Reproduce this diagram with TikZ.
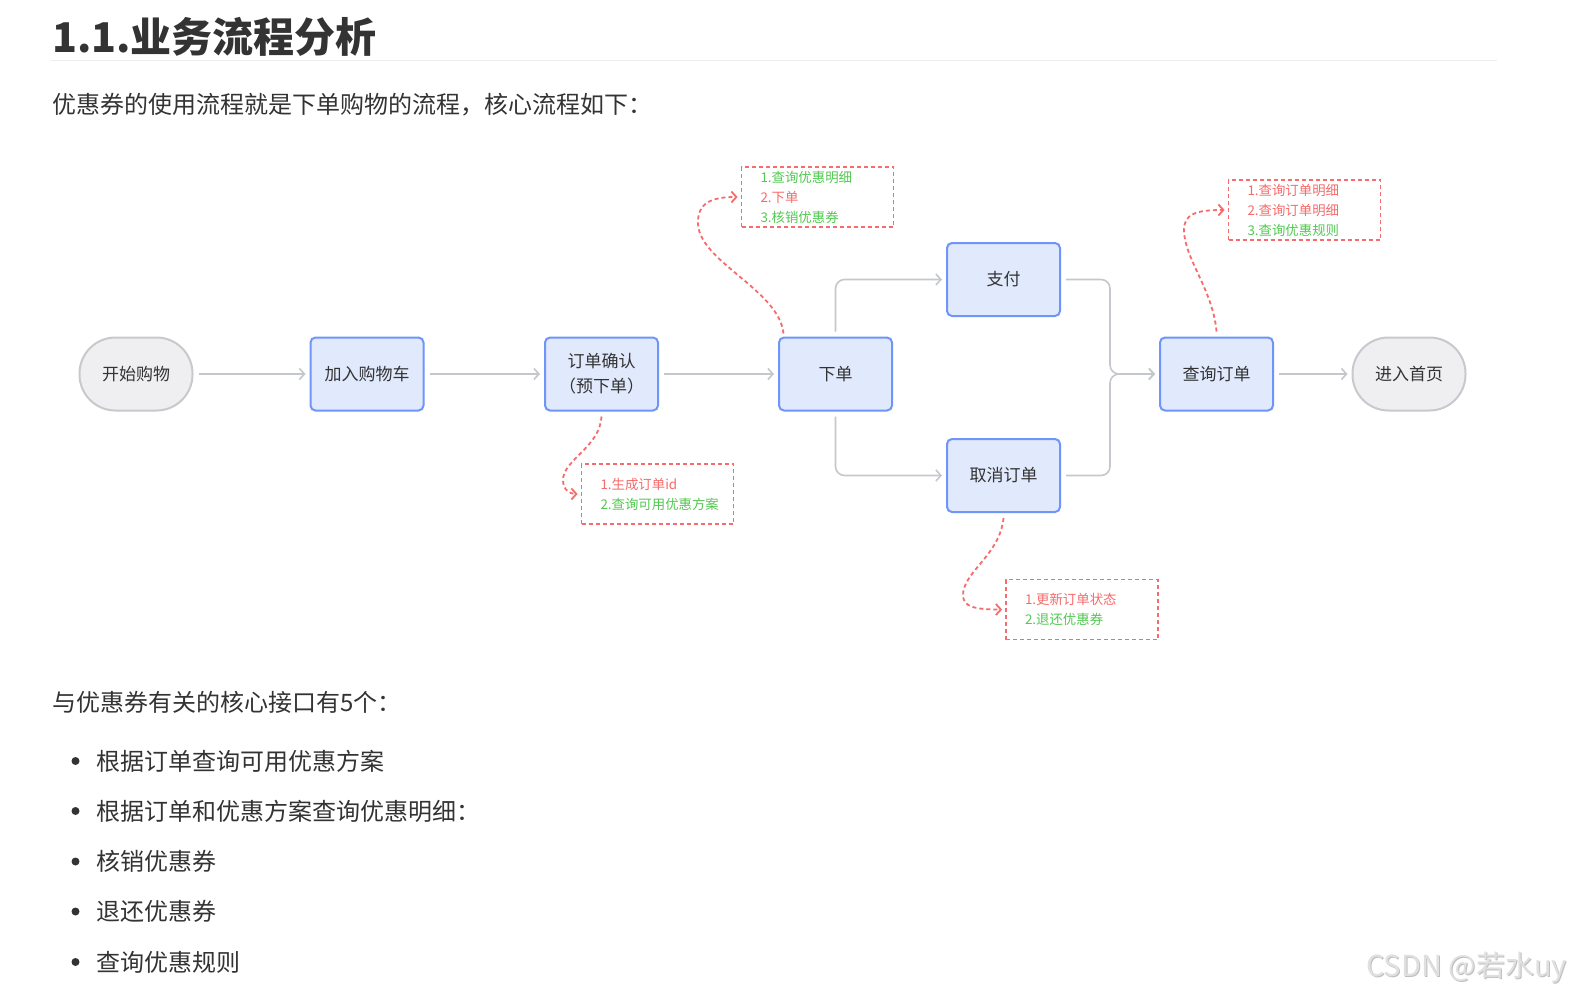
\documentclass[tikz,border=0pt]{standalone}
\usepackage{fontspec}
\setmainfont{Noto Sans CJK SC}
\usetikzlibrary{arrows.meta}

\definecolor{texto}{HTML}{333333}
\definecolor{caixa}{HTML}{E1E9FD}
\definecolor{borda}{HTML}{6E95F7}
\definecolor{cinza}{HTML}{EFEFF1}
\definecolor{bordacinza}{HTML}{C8C9CC}
\definecolor{linha}{HTML}{C4C7CC}
\definecolor{vermelho}{HTML}{F66B6B}
\definecolor{verde}{HTML}{52C952}
\definecolor{regua}{HTML}{EEEEEE}

\begin{document}
\begin{tikzpicture}[x=1pt,y=-1pt,
    flowbox/.style={draw=borda, fill=caixa, line width=2pt, rounded corners=5pt,
      minimum width=113pt, minimum height=73pt, align=center, text=texto,
      font=\fontsize{17}{25}\selectfont},
    endbox/.style={flowbox, draw=bordacinza, fill=cinza, rounded corners=36pt},
    notebox/.style={draw=vermelho, line width=1.8pt, dash pattern=on 4pt off 3pt,
      minimum height=60pt, text width=114pt, inner xsep=19pt, inner ysep=0pt,
      align=left, text=vermelho, font=\fontsize{13.4}{20}\selectfont},
    flowline/.style={draw=linha, line width=1.6pt, rounded corners=9pt,
      -{Straight Barb[length=5pt,width=11pt]}, shorten <=5pt, shorten >=4pt},
    noteline/.style={draw=vermelho, line width=1.8pt, dash pattern=on 4pt off 3pt,
      -{Straight Barb[length=5pt,width=11pt]}, shorten >=3pt},
    corpo/.style={anchor=west, inner sep=0pt, text=texto,
      font=\fontsize{24}{24}\selectfont}]
  \fill[white] (0,0) rectangle (1576,998);
  \useasboundingbox (0,0) rectangle (1576,998);

  % titulo e texto
  \node[corpo, font=\fontsize{41}{41}\selectfont\bfseries] (titulo) at (52,36.5) {1.1.业务流程分析};
  \draw[regua, line width=1pt] (50,60.5) -- (1497,60.5);
  \node[corpo] (intro) at (52,104.5) {优惠券的使用流程就是下单购物的流程，核心流程如下：};

  % caixas do fluxo
  \node[endbox] (inicio) at (136,374) {开始购物};
  \node[flowbox] (carrinho) at (367,374) {加入购物车};
  \node[flowbox] (confirma) at (601.5,374) {订单确认\\（预下单）};
  \node[flowbox] (pedido) at (835.5,374) {下单};
  \node[flowbox] (pagar) at (1003.5,279.5) {支付};
  \node[flowbox] (cancelar) at (1003.5,475.5) {取消订单};
  \node[flowbox] (consulta) at (1216.5,374) {查询订单};
  \node[endbox] (inicial) at (1409,374) {进入首页};
  \coordinate (juncao) at (1110,374);

  % setas
  \draw[flowline] (inicio) -- (carrinho);
  \draw[flowline] (carrinho) -- (confirma);
  \draw[flowline] (confirma) -- (pedido);
  \draw[flowline] (pedido.north) |- (pagar.west);
  \draw[flowline] (pedido.south) |- (cancelar.west);
  \draw[flowline] (pagar.east) -| (juncao) -- (consulta.west);
  \draw[flowline] (cancelar.east) -| (juncao) -- (consulta.west);
  \draw[flowline] (consulta) -- (inicial);

  % notas
  \node[notebox] (nota1) at (817.5,197) {\textcolor{verde}{1.查询优惠明细}\\2.下单\\\textcolor{verde}{3.核销优惠券}};
  \node[notebox] (nota2) at (1304.5,210) {1.查询订单明细\\2.查询订单明细\\\textcolor{verde}{3.查询优惠规则}};
  \node[notebox] (nota3) at (657.5,494) {1.生成订单id\\\textcolor{verde}{2.查询可用优惠方案}};
  \node[notebox] (nota4) at (1082,609.5) {1.更新订单状态\\\textcolor{verde}{2.退还优惠券}};

  \draw[noteline] ([xshift=-52pt,yshift=3pt]pedido.north) .. controls (779,290) and (700,262) .. (698,224)
    .. controls (697,202) and (713,197) .. (nota1.west);
  \draw[noteline] ([yshift=5pt]consulta.north) .. controls (1213,290) and (1184,258) .. (1184,230)
    .. controls (1184,214) and (1196,210) .. (nota2.west);
  \draw[noteline] ([yshift=-5pt]confirma.south) .. controls (600,447) and (563,460) .. (563,480)
    .. controls (563,490) and (570,494) .. (nota3.west);
  \draw[noteline] ([yshift=-5pt]cancelar.south) .. controls (1000,555) and (963,572) .. (963,595)
    .. controls (963,607) and (975,609.5) .. (nota4.west);

  % interfaces
  \node[corpo] (interfaces) at (52,702) {与优惠券有关的核心接口有5个：};
  \foreach \y/\txt [count=\i] in {761/根据订单查询可用优惠方案, 811/根据订单和优惠方案查询优惠明细：,
      861.5/核销优惠券, 911.5/退还优惠券, 962/查询优惠规则}
  {
    \fill[texto] (75.5,\y) circle (4pt);
    \node[corpo] (item\i) at (96.5,\y) {\txt};
  }

  % marca d'agua
  \node[anchor=west, inner sep=0pt, text=black!25, font=\fontsize{29}{29}\selectfont] (sombra) at (1367,969) {CSDN @若水uy};
  \node[anchor=west, inner sep=0pt, text=black!12, font=\fontsize{29}{29}\selectfont] (marca) at (1366,968) {CSDN @若水uy};
\end{tikzpicture}
\end{document}
